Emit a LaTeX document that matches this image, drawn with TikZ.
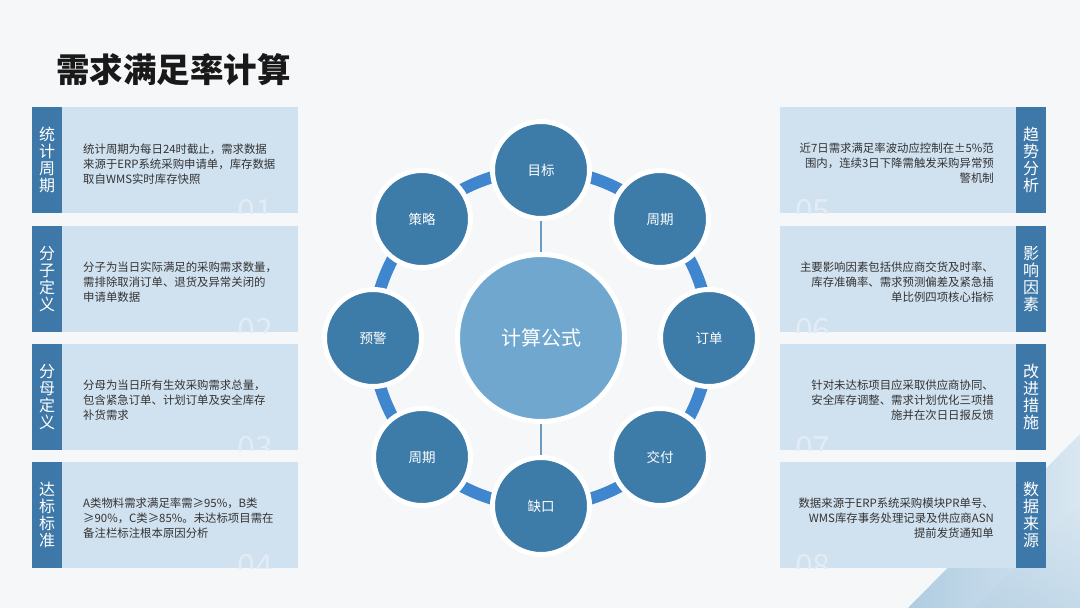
\documentclass[tikz,border=0pt]{standalone}
\usepackage{fontspec}
\setmainfont{Noto Sans CJK SC}
\definecolor{bgc}{HTML}{F6F7F9}
\definecolor{panelc}{HTML}{D0E1EF}
\definecolor{stripc}{HTML}{3D78A8}
\definecolor{bodyc}{HTML}{333333}
\definecolor{numc}{HTML}{E3ECF4}
\definecolor{dotc}{HTML}{3D7BA8}
\definecolor{corec}{HTML}{6FA7CF}
\definecolor{ringc}{HTML}{3F86CE}
\definecolor{linkc}{HTML}{6A9CC3}
\definecolor{cornerA}{HTML}{D9E7F1}
\definecolor{cornerB}{HTML}{AFCCE1}
\begin{document}
\begin{tikzpicture}[x=1pt,y=-1pt,
    panel/.style={fill=panelc,minimum width=266pt,minimum height=106pt,inner sep=0pt},
    strip/.style={fill=stripc,minimum width=30pt,minimum height=106pt,inner sep=0pt,
      text=white,align=center,font=\fontsize{16}{17}\selectfont},
    body/.style={text=bodyc,inner sep=0pt,font=\fontsize{11.4}{15}\selectfont},
    numtag/.style={text=numc,inner sep=0pt,font=\fontsize{32}{32}\selectfont},
    dot/.style={circle,fill=dotc,draw=white,line width=5pt,minimum size=97pt,
      inner sep=0pt,text=white,font=\fontsize{13.5}{14}\selectfont},
  ]
  % background
  \fill[bgc] (0,0) rectangle (1080,608);
  \useasboundingbox (0,0) rectangle (1080,608);
  % corner decoration
  \shade[left color=cornerB,right color=cornerA] (1080,434) -- (1080,608) -- (908,608) -- cycle;
  \shade[top color=cornerA,bottom color=cornerB!80!cornerA,opacity=.6] (1080,500) -- (1080,608) -- (975,608) -- cycle;

  % title
  \node[anchor=west,inner sep=0pt,font=\fontsize{33.5}{34}\selectfont\bfseries,text=black!90] (title) at (56,70) {需求满足率计算};

  % left panels
  \node[panel] (p1) at (165,160) {};
  \node[panel] (p2) at (165,279) {};
  \node[panel] (p3) at (165,397) {};
  \node[panel] (p4) at (165,515) {};
  \begin{scope}
    \clip (32,107) rectangle (298,213) (32,226) rectangle (298,332)
          (32,344) rectangle (298,450) (32,462) rectangle (298,568);
    \node[numtag,anchor=base east] (n1) at (273,222) {01};
    \node[numtag,anchor=base east] (n2) at (273,341) {02};
    \node[numtag,anchor=base east] (n3) at (273,459) {03};
    \node[numtag,anchor=base east] (n4) at (273,577) {04};
  \end{scope}
  \node[strip] (s1) at (47,160) {统\\计\\周\\期};
  \node[strip] (s2) at (47,279) {分\\子\\定\\义};
  \node[strip] (s3) at (47,397) {分\\母\\定\\义};
  \node[strip] (s4) at (47,515) {达\\标\\标\\准};
  \node[body,anchor=west,align=left] (t1) at (83,164) {统计周期为每日24时截止，需求数据\\来源于ERP系统采购申请单，库存数据\\取自WMS实时库存快照};
  \node[body,anchor=west,align=left] (t2) at (83,282) {分子为当日实际满足的采购需求数量，\\需排除取消订单、退货及异常关闭的\\申请单数据};
  \node[body,anchor=west,align=left] (t3) at (83,400) {分母为当日所有生效采购需求总量，\\包含紧急订单、计划订单及安全库存\\补货需求};
  \node[body,anchor=west,align=left] (t4) at (83,518) {A类物料需求满足率需≥95\%，B类\\≥90\%，C类≥85\%。未达标项目需在\\备注栏标注根本原因分析};

  % right panels
  \node[panel] (p5) at (913,160) {};
  \node[panel] (p6) at (913,279) {};
  \node[panel] (p7) at (913,397) {};
  \node[panel] (p8) at (913,515) {};
  \begin{scope}
    \clip (780,107) rectangle (1046,213) (780,226) rectangle (1046,332)
          (780,344) rectangle (1046,450) (780,462) rectangle (1046,568);
    \node[numtag,anchor=base west] (n5) at (795,222) {05};
    \node[numtag,anchor=base west] (n6) at (795,341) {06};
    \node[numtag,anchor=base west] (n7) at (795,459) {07};
    \node[numtag,anchor=base west] (n8) at (795,577) {08};
  \end{scope}
  \node[strip] (s5) at (1031,160) {趋\\势\\分\\析};
  \node[strip] (s6) at (1031,279) {影\\响\\因\\素};
  \node[strip] (s7) at (1031,397) {改\\进\\措\\施};
  \node[strip] (s8) at (1031,515) {数\\据\\来\\源};
  \node[body,anchor=east,align=right] (t5) at (994,163) {近7日需求满足率波动应控制在±5\%范\\围内，连续3日下降需触发采购异常预\\警机制};
  \node[body,anchor=east,align=right] (t6) at (994,282) {主要影响因素包括供应商交货及时率、\\库存准确率、需求预测偏差及紧急插\\单比例四项核心指标};
  \node[body,anchor=east,align=right] (t7) at (994,400) {针对未达标项目应采取供应商协同、\\安全库存调整、需求计划优化三项措\\施并在次日日报反馈};
  \node[body,anchor=east,align=right] (t8) at (994,518) {数据来源于ERP系统采购模块PR单号、\\WMS库存事务处理记录及供应商ASN\\提前发货通知单};

  % ring of steps
  \coordinate (ring) at (541,338);
  \draw[ringc,line width=12pt] (ring) circle[radius=168pt];
  \node[circle,fill=corec,draw=white,line width=5pt,minimum size=167pt,inner sep=0pt,
    text=white,font=\fontsize{20}{20}\selectfont] (core) at (ring) {计算公式};
  \node[dot] (goal) at (541,170) {目标};
  \node[dot] (cycleR) at (660,219) {周期};
  \node[dot] (order) at (709,338) {订单};
  \node[dot] (deliver) at (660,457) {交付};
  \node[dot] (gap) at (541,506) {缺口};
  \node[dot] (cycleL) at (422,457) {周期};
  \node[dot] (warn) at (373,338) {预警};
  \node[dot] (plan) at (422,219) {策略};
  \draw[linkc,line width=2pt] (goal) -- (core);
  \draw[linkc,line width=2pt] (core) -- (gap);
\end{tikzpicture}
\end{document}
